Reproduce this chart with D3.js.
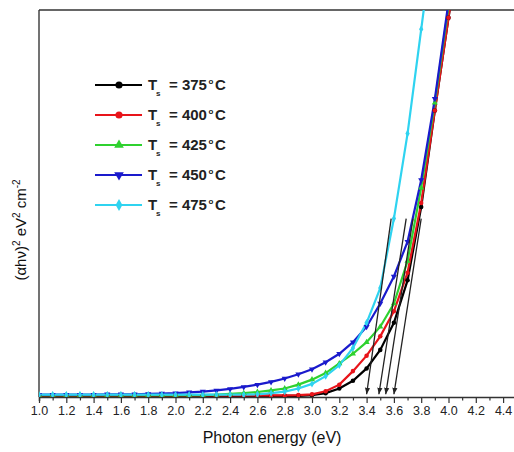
<!DOCTYPE html>
<html><head><meta charset="utf-8">
<script src="https://cdn.jsdelivr.net/npm/d3@7"></script>
<style>body{margin:0;background:#fff;} svg{display:block;font-family:Arial,"Liberation Sans",sans-serif;}</style>
</head><body>
<svg id="c" width="514" height="452"></svg>
<script>
// ---- data ----
const energies = [1.0,1.1,1.2,1.3,1.4,1.5,1.6,1.7,1.8,1.9,2.0,2.1,2.2,2.3,2.4,2.5,2.6,2.7,2.8,2.9,3.0,3.1,3.2,3.3,3.4,3.5,3.6,3.7,3.8,3.9,4.0,4.1];
const seriesNames = ["375", "400", "425", "450", "475"];
const v375 = [0.1,0.1,0.1,0.1,0.1,0.1,0.1,0.1,0.1,0.1,0.1,0.1,0.1,0.1,0.1,0.1,0.1,0.1,0.1,0.1,0.3,0.8,2.0,4.0,7.2,12,19,30,49,74,98,122];
const v400 = [0.2,0.2,0.2,0.2,0.2,0.2,0.2,0.2,0.2,0.2,0.2,0.2,0.2,0.2,0.2,0.2,0.2,0.2,0.2,0.3,0.5,1.3,3.0,6.5,10.5,15.5,22,32,50,74,98,122];
const v425 = [0.3,0.3,0.3,0.3,0.3,0.3,0.3,0.3,0.3,0.3,0.3,0.3,0.3,0.4,0.6,0.8,1.1,1.5,2.0,3.0,4.3,6.0,8.5,11,14,18,24,35,54,76,101,125];
const v450 = [0.4,0.4,0.4,0.4,0.4,0.5,0.5,0.5,0.6,0.7,0.8,1.0,1.2,1.5,1.9,2.4,3.0,3.7,4.6,5.7,7.0,8.8,11,14,18,24,31,40,56,77,102,128];
const v475 = [0.4,0.4,0.4,0.4,0.4,0.4,0.4,0.4,0.4,0.4,0.4,0.4,0.4,0.4,0.4,0.4,0.5,0.8,1.2,2.0,3.2,5.2,8.0,12.5,19,28,46,68,95,122,150,180];
const seriesValues = [v375, v400, v425, v450, v475];
const xTicks = [1.0,1.2,1.4,1.6,1.8,2.0,2.2,2.4,2.6,2.8,3.0,3.2,3.4,3.6,3.8,4.0,4.2,4.4];
// extrapolation (tangent) lines: x-intercept and upper point
const tangentE0 = [3.40, 3.49, 3.54, 3.60];
const tangentE1 = [3.58, 3.69, 3.74, 3.80];
const tangentV1 = [46, 46, 46, 46];

const colors = ["#000000", "#e8141a", "#2fd12f", "#1a1acc", "#2fd3f0"];
const shapes = [d3.symbolCircle, d3.symbolCircle, d3.symbolTriangle, "tridown", d3.symbolDiamond];

const svg = d3.select("#c");
const L = 39, T = 10, B = 397;
const x = d3.scaleLinear().domain([1.0, 4.5]).range([L, L + 3.5 / 0.2 * 27.3]);
const y = d3.scaleLinear().domain([-0.2, 100]).range([B, T]);

svg.append("defs").append("clipPath").attr("id", "clip")
  .append("rect").attr("x", L).attr("y", T).attr("width", 514 - L).attr("height", B - T);
svg.select("defs").append("marker").attr("id", "arr")
  .attr("viewBox", "0 0 10 10").attr("refX", 10).attr("refY", 5)
  .attr("markerWidth", 5).attr("markerHeight", 5).attr("orient", "auto")
  .append("path").attr("d", "M0,1 L10,5 L0,9 Z").attr("fill", "#222");

function sym(i, size) {
  const t = shapes[i] === "tridown" ? d3.symbolTriangle : shapes[i];
  return d3.symbol().type(t).size(size)();
}

// axes
const xAxis = d3.axisBottom(x).tickValues(d3.range(10, 45, 1).map(d => d / 10)).tickSize(4).tickFormat("");
const gx = svg.append("g").attr("transform", `translate(0,${B})`).call(xAxis);
gx.select(".domain").attr("stroke", "#333").attr("stroke-width", 1.5);
gx.selectAll(".tick line").attr("stroke", "#333").attr("stroke-width", 1.2)
  .attr("y2", d => (Math.round(d * 10) % 2 === 0) ? 6 : 3.5);
const gl = svg.append("g").attr("transform", `translate(0,${B})`)
  .call(d3.axisBottom(x).tickValues(xTicks).tickSize(0).tickPadding(9).tickFormat(d3.format(".1f")));
gl.select(".domain").remove();
gl.selectAll("text").attr("font-size", 12.5).attr("fill", "#222").attr("font-family", "Arial, 'Liberation Sans', sans-serif");

svg.append("line").attr("x1", L).attr("x2", L).attr("y1", T).attr("y2", B).attr("stroke", "#444").attr("stroke-width", 1.5);
svg.append("line").attr("x1", L).attr("x2", 514).attr("y1", T).attr("y2", T).attr("stroke", "#333").attr("stroke-width", 1.5);

// curves
const plot = svg.append("g").attr("clip-path", "url(#clip)");
const line = d3.line().x((d, i) => x(energies[i])).y(d => y(d));
seriesValues.forEach((vals, s) => {
  plot.append("path").attr("d", line(vals)).attr("fill", "none")
    .attr("stroke", colors[s]).attr("stroke-width", 2.2);
});
seriesValues.forEach((vals, s) => {
  plot.selectAll(null).data(vals).enter().append("path")
    .attr("d", sym(s, 16))
    .attr("transform", (d, i) => `translate(${x(energies[i])},${y(d)})${shapes[s] === "tridown" ? " rotate(180)" : ""}`)
    .attr("fill", colors[s]);
});

// tangents
tangentE0.forEach((e0, i) => {
  svg.append("line")
    .attr("x1", x(tangentE1[i])).attr("y1", y(tangentV1[i]))
    .attr("x2", x(e0)).attr("y2", y(0) - 2)
    .attr("stroke", "#222").attr("stroke-width", 1.3).attr("marker-end", "url(#arr)");
});

// legend
const leg = svg.append("g").attr("font-weight", "bold").attr("fill", "#222");
seriesNames.forEach((n, i) => {
  const cy = 85 + i * 30;
  leg.append("line").attr("x1", 95).attr("x2", 142).attr("y1", cy).attr("y2", cy)
    .attr("stroke", colors[i]).attr("stroke-width", 2.2);
  leg.append("path").attr("d", sym(i, 40))
    .attr("transform", `translate(119,${cy})${shapes[i] === "tridown" ? " rotate(180)" : ""}`)
    .attr("fill", colors[i]);
  leg.append("text").attr("x", 148).attr("y", cy + 5).attr("font-size", 15).text("T");
  leg.append("text").attr("x", 156).attr("y", cy + 11).attr("font-size", 8).text("s");
  leg.append("text").attr("x", 169).attr("y", cy + 5).attr("font-size", 15).text("= " + n);
  leg.append("text").attr("x", 208.5).attr("y", cy - 1).attr("font-size", 8).text("o");
  leg.append("text").attr("x", 215).attr("y", cy + 5).attr("font-size", 15).text("C");
});

// titles
svg.append("text").attr("x", 272).attr("y", 443).attr("text-anchor", "middle")
  .attr("font-size", 16).attr("fill", "#111").text("Photon energy (eV)");
const yt = svg.append("text").attr("transform", "translate(26,230) rotate(-90)")
  .attr("text-anchor", "middle").attr("font-size", 15).attr("fill", "#111");
yt.append("tspan").text("(αhν)");
yt.append("tspan").attr("font-size", 10).attr("dy", -6).text("2");
yt.append("tspan").attr("dy", 6).text(" eV");
yt.append("tspan").attr("font-size", 10).attr("dy", -6).text("2");
yt.append("tspan").attr("dy", 6).text(" cm");
yt.append("tspan").attr("font-size", 10).attr("dy", -6).text("-2");
</script>
</body></html>
